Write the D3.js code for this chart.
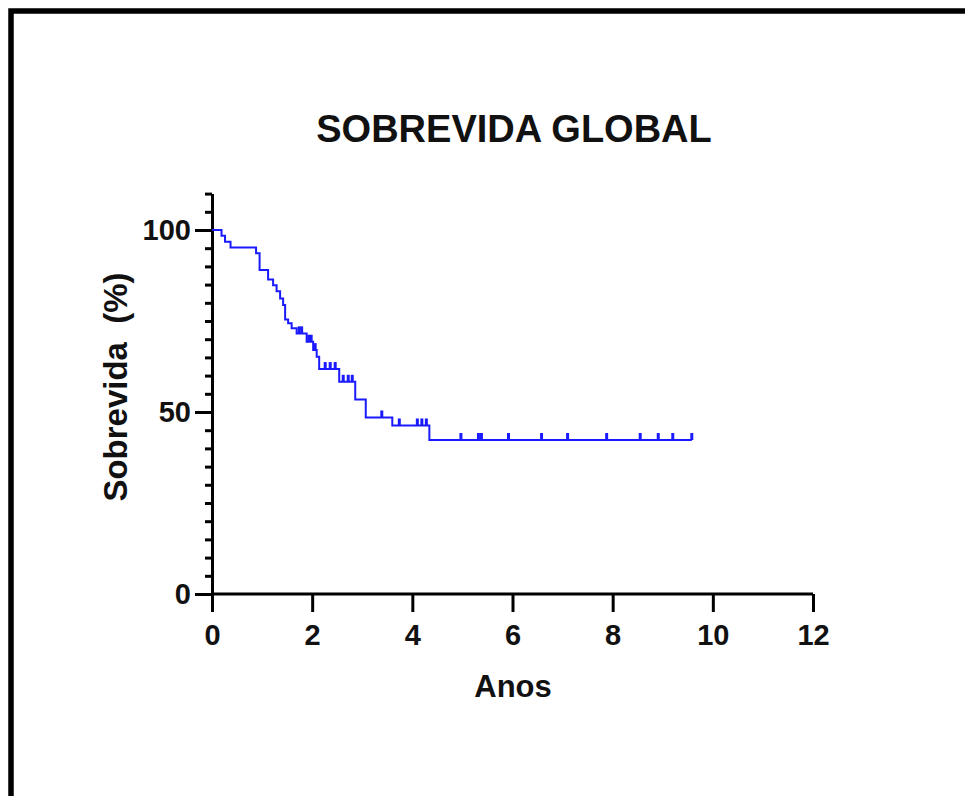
<!DOCTYPE html>
<html>
<head>
<meta charset="utf-8">
<script src="https://cdn.jsdelivr.net/npm/d3@7"></script>
<style>
  body { margin: 0; background: #fff; }
  text { font-family: "Liberation Sans", Arial, sans-serif; font-weight: bold; fill: #111; }
</style>
</head>
<body>
<script>
// survival steps: time (years) where the curve drops, and the level after the drop
var stepTimes  = [0, 0.19, 0.26, 0.37, 0.88, 0.95, 1.12, 1.22, 1.29, 1.36, 1.42, 1.46, 1.52, 1.59, 1.69, 1.89, 2.02, 2.09, 2.14, 2.54, 2.86, 3.07, 3.60, 4.34];
var stepLevels = [100, 98.4, 96.8, 95.2, 93.6, 89.0, 86.4, 84.8, 83.2, 81.2, 79.4, 75.4, 74.4, 73.0, 71.6, 69.3, 67.0, 65.2, 61.8, 58.3, 53.4, 48.5, 46.3, 42.3];
var lastTime = 9.58;

// censored observations (tick marks on the curve)
var censorTimes = [1.74, 1.79, 1.93, 1.98, 2.06, 2.26, 2.36, 2.46, 2.62, 2.72, 2.80, 3.39, 3.74, 4.10, 4.19, 4.28, 4.97, 5.32, 5.38, 5.92, 6.58, 7.10, 7.88, 8.55, 8.91, 9.20, 9.58];

var xTicks = [0, 2, 4, 6, 8, 10, 12];
var yTicks = [0, 50, 100];
var yMinorTicks = [5, 10, 15, 20, 25, 30, 35, 40, 45, 55, 60, 65, 70, 75, 80, 85, 90, 95, 105, 110];

var title = 'SOBREVIDA GLOBAL';
var xTitle = 'Anos';
var yTitle = 'Sobrevida  (%)';

var width = 965, height = 796;

var svg = d3.select('body').append('svg')
  .attr('width', width)
  .attr('height', height);

// outer frame (runs off the right and bottom of the picture)
svg.append('rect')
  .attr('x', 11).attr('y', 11)
  .attr('width', 1100).attr('height', 1000)
  .attr('fill', 'none')
  .attr('stroke', '#000')
  .attr('stroke-width', 5.5);

var x = d3.scaleLinear().domain([0, 12]).range([212, 813]);
var y = d3.scaleLinear().domain([0, 110]).range([594, 193.6]);

// level at a given time, for placing censor marks
function levelAt(t) {
  var lvl = stepLevels[0];
  for (var i = 0; i < stepTimes.length; i++) {
    if (stepTimes[i] <= t) lvl = stepLevels[i];
  }
  return lvl;
}

// minor y ticks
var yMinor = svg.append('g')
  .attr('transform', 'translate(' + x(0) + ',0)')
  .call(d3.axisLeft(y).tickValues(yMinorTicks).tickSize(7).tickFormat(''));

// main y axis
var yAxis = svg.append('g')
  .attr('transform', 'translate(' + x(0) + ',0)')
  .call(d3.axisLeft(y).tickValues(yTicks).tickSize(17).tickSizeOuter(0).tickPadding(4));

// x axis
var xAxis = svg.append('g')
  .attr('transform', 'translate(0,' + y(0) + ')')
  .call(d3.axisBottom(x).tickValues(xTicks).tickSize(18).tickSizeOuter(0).tickPadding(12));

[yMinor, yAxis, xAxis].forEach(function(g) {
  g.selectAll('path, line').attr('stroke', '#000').attr('stroke-width', 3);
  g.selectAll('text').style('font-size', '29px').attr('fill', '#111');
});
yMinor.select('.domain').remove();
xAxis.select('.domain').attr('d', 'M' + x(0) + ',0H' + x(12));

// survival curve
var pts = [];
for (var i = 0; i < stepTimes.length; i++) pts.push([stepTimes[i], stepLevels[i]]);
pts.push([lastTime, stepLevels[stepLevels.length - 1]]);

var line = d3.line()
  .x(function(d) { return x(d[0]); })
  .y(function(d) { return y(d[1]); })
  .curve(d3.curveStepAfter);

svg.append('path')
  .datum(pts)
  .attr('d', line)
  .attr('fill', 'none')
  .attr('stroke', '#1a1aff')
  .attr('stroke-width', 2);

svg.selectAll('.censor')
  .data(censorTimes)
  .enter().append('line')
  .attr('class', 'censor')
  .attr('x1', function(d) { return x(d); })
  .attr('x2', function(d) { return x(d); })
  .attr('y1', function(d) { return y(levelAt(d)); })
  .attr('y2', function(d) { return y(levelAt(d)) - 7; })
  .attr('stroke', '#1a1aff')
  .attr('stroke-width', 3);

// titles
svg.append('text')
  .attr('x', 514).attr('y', 142)
  .attr('text-anchor', 'middle')
  .style('font-size', '38px')
  .text(title);

svg.append('text')
  .attr('x', 513).attr('y', 697)
  .attr('text-anchor', 'middle')
  .style('font-size', '31px')
  .text(xTitle);

svg.append('text')
  .attr('transform', 'translate(127,387) rotate(-90)')
  .attr('text-anchor', 'middle')
  .style('font-size', '33px')
  .style('white-space', 'pre')
  .text(yTitle);
</script>
</body>
</html>
